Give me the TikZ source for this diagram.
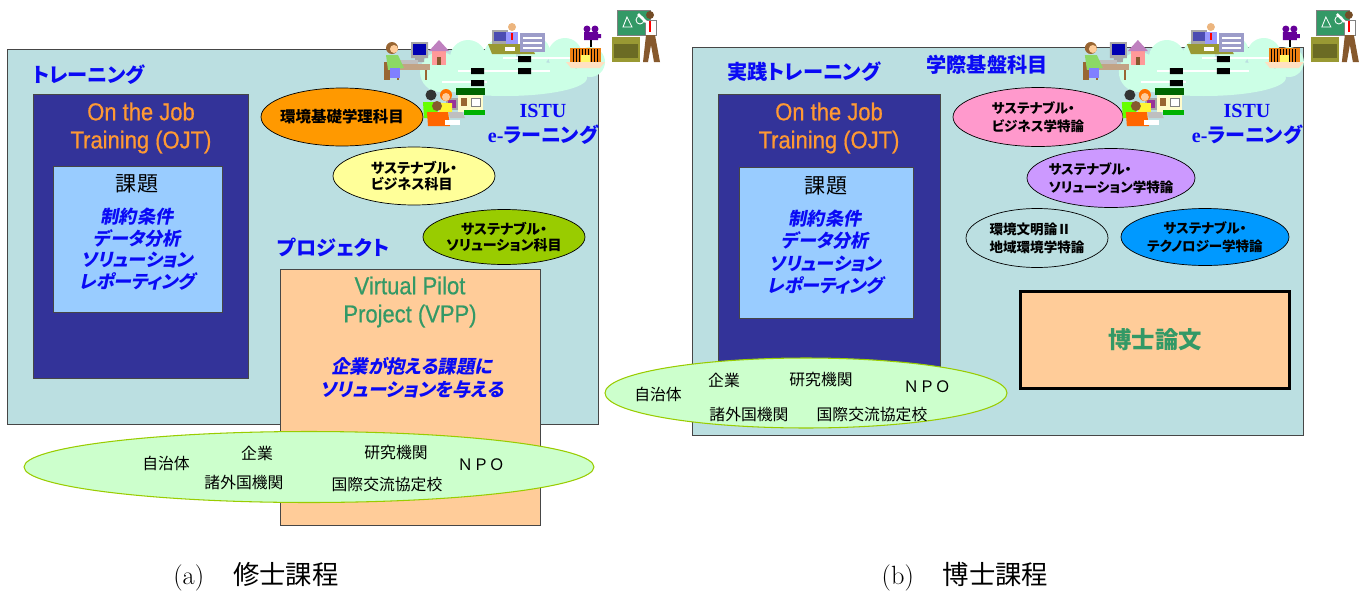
\documentclass[tikz,border=0pt]{standalone}
\usepackage{fontspec}
\usetikzlibrary{shapes.geometric}

\newfontfamily\jp[RawFeature={+palt}]{Noto Sans CJK JP}
\newfontfamily\jpit[RawFeature={+palt}, FakeSlant=0.2]{Noto Sans CJK JP}
\newfontfamily\jpplain{Noto Sans CJK JP}
\newfontfamily\arialn[FakeStretch=0.9, FakeBold=0.6]{Liberation Sans}
\newfontfamily\tnr{Liberation Serif}

\definecolor{panelcyan}{RGB}{187,223,225}
\definecolor{framegray}{RGB}{70,70,70}
\definecolor{ojtnavy}{RGB}{51,51,153}
\definecolor{ojtorange}{RGB}{255,153,51}
\definecolor{taskblue}{RGB}{153,204,255}
\definecolor{textblue}{RGB}{10,10,245}
\definecolor{vppgreen}{RGB}{51,153,102}
\definecolor{vppfill}{RGB}{255,204,153}
\definecolor{partnerfill}{RGB}{204,255,204}
\definecolor{partnerline}{RGB}{153,204,0}
\definecolor{kisoorange}{RGB}{255,153,0}
\definecolor{bizyellow}{RGB}{255,255,153}
\definecolor{solgreen}{RGB}{153,204,0}
\definecolor{bizpink}{RGB}{255,153,204}
\definecolor{solpurple}{RGB}{204,153,255}
\definecolor{techblue}{RGB}{0,153,255}
\definecolor{cloudmint}{RGB}{204,255,230}
\definecolor{deskolive}{RGB}{153,153,51}
\definecolor{woodbrown}{RGB}{153,102,51}
\definecolor{skin}{RGB}{255,204,153}

% e-learning clip art (cloud, network, people), drawn in pixel units
\newcommand{\elearningart}{%
  % cloud and network
  \fill[cloudmint] (440,72) circle[radius=20] (468,58) circle[radius=18]
    (500,55) circle[radius=16] (535,52) circle[radius=15]
    (565,55) circle[radius=17] (590,62) circle[radius=15]
    (505,78) ellipse[x radius=82, y radius=18];
  \draw[white, line width=1.2pt] (503,58) -- (570,58) (458,71) -- (550,71) (442,82) -- (487,82);
  \fill[black] (518,56) rectangle (531,62) (518,68) rectangle (531,74)
    (471,68) rectangle (484,74) (471,80) rectangle (484,86);
  % woman at a computer, with a house
  \fill[woodbrown] (384,62) rectangle (390,80);
  \fill[woodbrown!60] (395,64) rectangle (430,70);
  \draw[woodbrown, line width=1pt] (398,70) -- (398,80) (426,70) -- (426,80);
  \fill[gray!70] (411,42) rectangle (428,58) (415,58) rectangle (424,62);
  \fill[blue!70!black] (413,44) rectangle (426,55);
  \fill[gray!50] (400,60) rectangle (418,64);
  \fill[woodbrown] (392,48) circle[radius=6];
  \fill[skin] (394,49) circle[radius=4];
  \fill[green!50!olive!60] (386,55) -- (398,55) -- (404,68) -- (388,70) -- cycle;
  \fill[blue!50] (390,68) rectangle (400,78);
  \fill[red!40] (432,50) rectangle (446,65);
  \fill[violet!50] (429,51) -- (439,40) -- (449,51) -- cycle;
  \fill[brown!70!black] (437,57) rectangle (441,65);
  % man at his desk
  \fill[deskolive] (488,44) -- (530,44) -- (535,54) -- (492,54) -- cycle;
  \fill[gray!70] (492,30) rectangle (508,44);
  \fill[blue!40!gray] (494,32) rectangle (506,41);
  \fill[blue!40] (506,32) rectangle (518,44);
  \fill[skin!70!brown] (512,27) circle[radius=4];
  \draw[red, line width=0.8pt] (512,33) -- (512,40);
  \fill[blue!30!gray!60] (520,33) rectangle (545,52);
  \draw[white, line width=0.6pt] (523,38) -- (542,38) (523,43) -- (542,43) (523,48) -- (542,48);
  \fill[white] (505,47) rectangle (515,51);
  % camera and gate
  \fill[violet!80!blue] (587,29) circle[radius=3.5] (595,29) circle[radius=3.5]
    (584,32) rectangle (598,40) (598,34) rectangle (601,38);
  \draw[black, line width=0.8pt] (591,40) -- (591,47);
  \fill[orange!70!brown] (570,48) rectangle (601,62);
  \foreach \gx in {573,576,...,598} \draw[black, line width=0.5pt] (\gx,49) -- (\gx,62);
  \fill[yellow!60] (581,55) rectangle (590,62);
  \fill[skin!60] (566,62) -- (605,62) -- (600,68) -- (571,68) -- cycle;
  % teacher at the blackboard
  \fill[vppgreen, draw=gray] (617,10) rectangle (650,35);
  \draw[white, line width=0.5pt] (623,27) -- (627,17) -- (632,27) -- cycle (640,20) circle[radius=4];
  \fill[deskolive] (612,37) rectangle (640,62);
  \fill[deskolive!70!black] (614,44) rectangle (638,58);
  \fill[white, draw=gray] (645,20) rectangle (656,35);
  \draw[red, line width=0.8pt] (650,21) -- (650,32);
  \fill[brown!60!black] (650,15) circle[radius=4];
  \fill[brown!70!black] (646,35) -- (655,35) -- (660,62) -- (654,62) -- (651,45) -- (648,62) -- (643,62) -- cycle;
  \draw[white, line width=1.5pt] (646,22) -- (638,14);
  % group of students and a house
  \fill[green!40!black] (456,88) rectangle (485,95);
  \fill[yellow!20] (458,95) rectangle (483,112);
  \fill[woodbrown] (461,98) rectangle (467,106);
  \fill[white, draw=gray] (471,98) rectangle (480,106);
  \fill[green!70!black] (464,110) rectangle (485,115);
  \fill[gray!70] (446,98) rectangle (458,110);
  \fill[violet!80] (448,100) rectangle (456,108);
  \fill[black!80] (431,95) circle[radius=5.5];
  \fill[green!60!yellow] (423,102) -- (437,102) -- (438,118) -- (424,118) -- cycle;
  \fill[orange!90!red] (446,95) circle[radius=6];
  \fill[skin] (446,97) circle[radius=4];
  \fill[yellow!80] (438,103) -- (452,103) -- (452,115) -- (440,115) -- cycle;
  \fill[brown!70!black] (437,106) circle[radius=5];
  \fill[orange!80!red] (427,112) -- (448,112) -- (450,126) -- (428,126) -- cycle;
  \fill[gray!50] (448,112) -- (462,112) -- (465,118) -- (450,118) -- cycle;
  \fill[white] (445,120) rectangle (460,125);
}

\begin{document}
\begin{tikzpicture}[
    x=0.02cm, y=-0.02cm,
    panel/.style={rectangle, draw=framegray, semithick, fill=panelcyan, anchor=north west, inner sep=0pt},
    ojt/.style={rectangle, draw=framegray, fill=ojtnavy, anchor=north west, inner sep=0pt},
    task/.style={rectangle, draw=framegray, fill=taskblue, anchor=north west, inner sep=0pt},
    heading/.style={font=\jp\bfseries\fontsize{11.5}{14}\selectfont, text=textblue, inner sep=0pt},
    ojttext/.style={font=\arialn\fontsize{13.9}{16}\selectfont, text=ojtorange, align=center, inner sep=0pt},
    tasktitle/.style={font=\jpplain\fontsize{12}{14}\selectfont, inner sep=0pt},
    tasklist/.style={font=\jpit\bfseries\fontsize{10.3}{12.2}\selectfont, text=textblue, align=center, inner sep=0pt},
    course/.style={ellipse, draw, inner xsep=-1mm, inner ysep=0pt, align=center, font=\jp\bfseries\fontsize{8}{9.2}\selectfont},
    dcourse/.style={course, font=\jp\bfseries\fontsize{7.7}{10.2}\selectfont},
    partners/.style={ellipse, draw=partnerline, semithick, fill=partnerfill, inner sep=0pt},
    partner/.style={font=\jpplain\fontsize{9}{11}\selectfont, inner sep=0pt},
    istu/.style={align=center, text=textblue, inner sep=0pt, font=\fontsize{11.4}{14.2}\selectfont},
    caption/.style={font=\fontsize{15}{18}\selectfont, inner sep=0pt}
]
\useasboundingbox (0,0) rectangle (1370,592);

% (a) master's course
\node[panel, minimum width=11.82cm, minimum height=7.5cm] (mastbox) at (7,49) {};
\node[heading, anchor=west] (mtrain) at (32,75) {トレーニング};
\node[ojt, minimum width=4.3cm, minimum height=5.68cm] (mojt) at (33,94) {};
\node[ojttext] (mojttitle) at (141,128) {On the Job\\Training (OJT)};
\node[task, minimum width=3.38cm, minimum height=2.92cm] (mtask) at (53,166) {};
\node[tasktitle] (mtasktitle) at (137,184) {課題};
\node[tasklist] (mtasklist) at (137,249) {制約条件\\データ分析\\ソリューション\\レポーティング};

% subjects
\node[course, fill=kisoorange, minimum width=3.24cm, minimum height=1.16cm,
      font=\jp\bfseries\fontsize{8.8}{10}\selectfont] (kiso) at (342,117) {環境基礎学理科目};
\node[course, fill=bizyellow, minimum width=3.24cm, minimum height=1.16cm, align=left] (mbiz) at (414,176) {サステナブル・\\ビジネス科目};
\node[course, fill=solgreen, minimum width=3.24cm, minimum height=1.1cm] (msol) at (504,237) {サステナブル・\\ソリューション科目};

% project
\node[heading, anchor=west] (mproj) at (277,248) {プロジェクト};
\node[rectangle, draw=framegray, fill=vppfill, anchor=north west, minimum width=5.2cm, minimum height=5.12cm] (vpp) at (280,269) {};
\node[ojttext, text=vppgreen] (vpptitle) at (410,302) {Virtual Pilot\\Project (VPP)};
\node[tasklist, font=\jpit\bfseries\fontsize{10.5}{13}\selectfont] (vppgoal) at (412,378) {企業が抱える課題に\\ソリューションを与える};

\elearningart
\node[istu] (mistu) at (543,124) {{\tnr\bfseries ISTU}\\{\tnr\bfseries e-}{\jp\bfseries ラーニング}};

% partners
\node[partners, minimum width=11.4cm, minimum height=1.42cm] (mpartners) at (309,467) {};
\node[partner] (mgov) at (166,463) {自治体};
\node[partner] (mfirm) at (257,453) {企業};
\node[partner] (mlab) at (396,453) {研究機関};
\node[partner] (mnpo) at (481,465) {ＮＰＯ};
\node[partner] (mabroad) at (244,483) {諸外国機関};
\node[partner] (mschool) at (387,485) {国際交流協定校};

\node[caption] (capa) at (256,577) {(a)\hspace{1.1em}{\jpplain 修士課程}};

% (b) doctoral course
\node[panel, minimum width=12.22cm, minimum height=7.76cm] (docbox) at (692,47) {};
\node[heading, anchor=west] (dtrain) at (727,72) {実践トレーニング};
\node[heading] (dbase) at (987,65) {学際基盤科目};
\node[ojt, minimum width=4.44cm, minimum height=5.56cm] (dojt) at (718,94) {};
\node[ojttext] (dojttitle) at (829,128) {On the Job\\Training (OJT)};
\node[task, minimum width=3.48cm, minimum height=3.02cm] (dtask) at (739,167) {};
\node[tasktitle] (dtasktitle) at (826,186) {課題};
\node[tasklist, font=\jpit\bfseries\fontsize{10.3}{12.8}\selectfont] (dtasklist) at (825,252) {制約条件\\データ分析\\ソリューション\\レポーティング};

% subjects
\node[dcourse, fill=bizpink, minimum width=3.4cm, minimum height=1.18cm, align=left] (dbiz) at (1038,117) {サステナブル・\\ビジネス学特論};
\node[dcourse, fill=solpurple, minimum width=3.36cm, minimum height=1.18cm, align=left] (dsol) at (1111,178) {サステナブル・\\ソリューション学特論};
\node[dcourse, minimum width=2.84cm, minimum height=1.18cm, align=left] (dciv) at (1037,238) {環境文明論Ⅱ\\地域環境学特論};
\node[dcourse, fill=techblue, minimum width=3.36cm, minimum height=1.14cm] (dtech) at (1205,237) {サステナブル・\\テクノロジー学特論};

% thesis
\node[rectangle, draw=black, line width=2.2pt, fill=vppfill, minimum width=5.38cm, minimum height=1.94cm,
      font=\jp\bfseries\fontsize{13.3}{15}\selectfont, text=vppgreen] (thesis) at (1155,340) {博士論文};

\begin{scope}[xshift=13.98cm]
\elearningart
\end{scope}
\node[istu] (distu) at (1247,124) {{\tnr\bfseries ISTU}\\{\tnr\bfseries e-}{\jp\bfseries ラーニング}};

% partners
\node[partners, minimum width=8.04cm, minimum height=1.4cm] (dpartners) at (806,393) {};
\node[partner] (dgov) at (658,394) {自治体};
\node[partner] (dfirm) at (724,380) {企業};
\node[partner] (dlab) at (821,380) {研究機関};
\node[partner] (dnpo) at (927,387) {ＮＰＯ};
\node[partner] (dabroad) at (749,415) {諸外国機関};
\node[partner] (dschool) at (872,415) {国際交流協定校};

\node[caption] (capb) at (965,577) {(b)\hspace{1.1em}{\jpplain 博士課程}};

\end{tikzpicture}
\end{document}
